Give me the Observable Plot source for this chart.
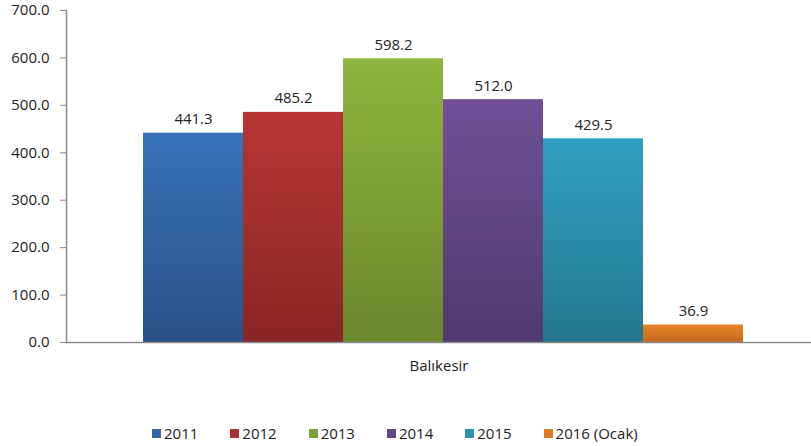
<!DOCTYPE html>
<html>
<head>
<meta charset="utf-8">
<script src="https://cdn.jsdelivr.net/npm/d3@7"></script>
<script src="https://cdn.jsdelivr.net/npm/@observablehq/plot@0.6"></script>
<style>
  body { margin: 0; background: #fff; font-family: "Open Sans", sans-serif; }
  #legend { display: flex; height: 46px; align-items: center; padding-left: 152px; font-size: 15px; color: #222; }
  .item { display: flex; align-items: center; margin-right: 32px; }
  .sw { width: 9px; height: 9px; margin-right: 3px; }
</style>
</head>
<body>
<div id="chart"></div>
<div id="legend"></div>
<script>
const category = "Balıkesir";
const years = ["2011", "2012", "2013", "2014", "2015", "2016 (Ocak)"];
const values = [441.3, 485.2, 598.2, 512.0, 429.5, 36.9];
const yTicks = [0, 100, 200, 300, 400, 500, 600, 700];

const topColors = ["#3872b8", "#b93635", "#8eb53f", "#6f5097", "#30a1c1", "#ea8328"];
const bottomColors = ["#2a5186", "#892525", "#6a872d", "#513a6f", "#24768e", "#c4691f"];
const legendColors = ["#3466a8", "#a83030", "#7fa238", "#624787", "#2b93b0", "#de7a24"];

const data = years.map((y, i) => ({year: y, value: values[i], idx: i}));

const chart = Plot.plot({
  width: 811,
  height: 410,
  marginLeft: 66,
  marginRight: 0,
  marginTop: 10,
  marginBottom: 68,
  style: {fontFamily: "Open Sans, sans-serif", fontSize: "14px", color: "#222"},
  x: {domain: years, range: [142, 743], padding: 0, axis: null},
  y: {domain: [0, 700], axis: null, label: null},
  marks: [
    Plot.barY(data, {x: "year", y: "value", fill: d => `url(#grad${d.idx})`, inset: 0}),
    Plot.text(data, {x: "year", y: "value", text: d => d.value.toFixed(1), lineAnchor: "bottom", dy: -9, fontSize: 15, fill: "#222"}),
    Plot.axisY({ticks: yTicks, tickFormat: d => d.toFixed(1), tickSize: 6, tickPadding: 11, fontSize: 15, stroke: "#8a8a8a", fill: "#222", label: null}),
    Plot.frame({anchor: "left", stroke: "#8a8a8a", strokeWidth: 1.5}),
    Plot.ruleY([0], {stroke: "#8a8a8a", strokeWidth: 1.5}),
    Plot.text([category], {frameAnchor: "bottom", dy: 24, lineAnchor: "middle", fontSize: 15, fill: "#222"})
  ]
});

// gradient definitions for bars
const svg = d3.select(chart);
const defs = svg.insert("defs", ":first-child");
topColors.forEach((c, i) => {
  const g = defs.append("linearGradient").attr("id", "grad" + i).attr("x1", 0).attr("y1", 0).attr("x2", 0).attr("y2", 1);
  g.append("stop").attr("offset", "0%").attr("stop-color", c);
  g.append("stop").attr("offset", "100%").attr("stop-color", bottomColors[i]);
});

document.getElementById("chart").appendChild(chart);

const legend = d3.select("#legend");
years.forEach((y, i) => {
  const it = legend.append("div").attr("class", "item");
  it.append("div").attr("class", "sw").style("background", legendColors[i]);
  it.append("span").text(y);
});
</script>
</body>
</html>
